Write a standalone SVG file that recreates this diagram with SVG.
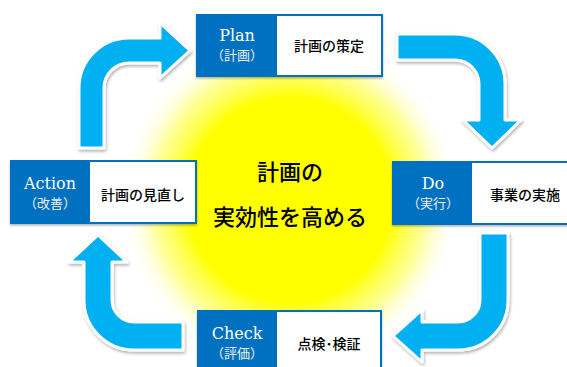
<svg xmlns="http://www.w3.org/2000/svg" width="567" height="367" viewBox="0 0 567 367">
<defs>
<radialGradient id="glow" cx="290" cy="200" r="170" gradientUnits="userSpaceOnUse">
<stop offset="0" stop-color="#FFFF00"/>
<stop offset="0.6" stop-color="#FFFF00"/>
<stop offset="0.8" stop-color="#FFFF50" stop-opacity="0.6"/>
<stop offset="1" stop-color="#FFFFFF" stop-opacity="0"/>
</radialGradient>
<filter id="sh" x="-20%" y="-20%" width="140%" height="140%">
<feDropShadow dx="1" dy="2" stdDeviation="1.5" flood-color="#000" flood-opacity="0.3"/>
</filter>
<filter id="bsh" x="-10%" y="-10%" width="120%" height="130%">
<feDropShadow dx="0" dy="1.5" stdDeviation="1" flood-color="#000" flood-opacity="0.3"/>
</filter>
</defs>
<style>
.arrow{fill:#00B0F0;stroke:#FFFFFF;stroke-width:3;stroke-linejoin:round;filter:url(#sh)}
.blue{fill:#0070C0;filter:url(#bsh)}
.white{fill:#FFFFFF}
.en{font-family:"DejaVu Serif","Liberation Serif",serif;font-size:16px;fill:#FFFFFF;text-anchor:middle}
.sub{font-family:"Noto Sans CJK JP",sans-serif;font-size:13px;fill:#F0F0F0;text-anchor:middle}
.lbl{font-family:"Noto Sans CJK JP",sans-serif;font-size:14px;fill:#000000;text-anchor:middle;font-weight:500}
.ctr{font-family:"Noto Sans CJK JP",sans-serif;font-size:22px;fill:#000000;text-anchor:middle;font-weight:500}
</style>
<rect x="0" y="0" width="567" height="367" fill="#FFFFFF"/>
<circle cx="290" cy="200" r="170" fill="url(#glow)"/>
<g id="connectors">
<path class="arrow" d="M79,148 L79,88 A50,50 0 0 1 129,38 L160,38 L160,23 L190,50.5 L160,78 L160,63 L129,63 A25,25 0 0 0 104,88 L104,148 Z"/>
<path class="arrow" d="M397,34 L455,34 A50,50 0 0 1 505,84 L505,120 L521,120 L492,148 L463,120 L479,120 L479,84 A24,24 0 0 0 455,60 L397,60 Z"/>
<path class="arrow" d="M480,233 L508,233 L508,300 A50,50 0 0 1 458,350 L422,350 L422,362 L393,336 L422,310 L422,322 L458,322 A22,22 0 0 0 480,300 Z"/>
<path class="arrow" d="M183,322 L134,322 A22,22 0 0 1 112,300 L112,262 L127,262 L98,235 L69,262 L84,262 L84,300 A50,50 0 0 0 134,350 L183,350 Z"/>
</g>
<g id="center">
<text class="ctr" x="290" y="180">計画の</text>
<text class="ctr" x="290" y="225">実効性を高める</text>
</g>
<g id="plan">
<rect class="blue" x="196" y="14" width="187" height="63"/>
<rect class="white" x="277" y="16" width="104" height="59"/>
<text class="en" x="237" y="41">Plan</text>
<text class="sub" x="237" y="60">（計画）</text>
<text class="lbl" x="329" y="51">計画の策定</text>
</g>
<g id="do">
<rect class="blue" x="392" y="161" width="190" height="64"/>
<rect class="white" x="472" y="163" width="110" height="60"/>
<text class="en" x="433" y="189">Do</text>
<text class="sub" x="433" y="208">（実行）</text>
<text class="lbl" x="525" y="200">事業の実施</text>
</g>
<g id="check">
<rect class="blue" x="197" y="310" width="185" height="64"/>
<rect class="white" x="277" y="312" width="103" height="64"/>
<text class="en" x="237" y="339">Check</text>
<text class="sub" x="237" y="358">（評価）</text>
<text class="lbl" x="329" y="349">点検･検証</text>
</g>
<g id="action">
<rect class="blue" x="10" y="160" width="187" height="64"/>
<rect class="white" x="90" y="162" width="105" height="60"/>
<text class="en" x="50" y="189">Action</text>
<text class="sub" x="50" y="208">（改善）</text>
<text class="lbl" x="143" y="200">計画の見直し</text>
</g>
</svg>
